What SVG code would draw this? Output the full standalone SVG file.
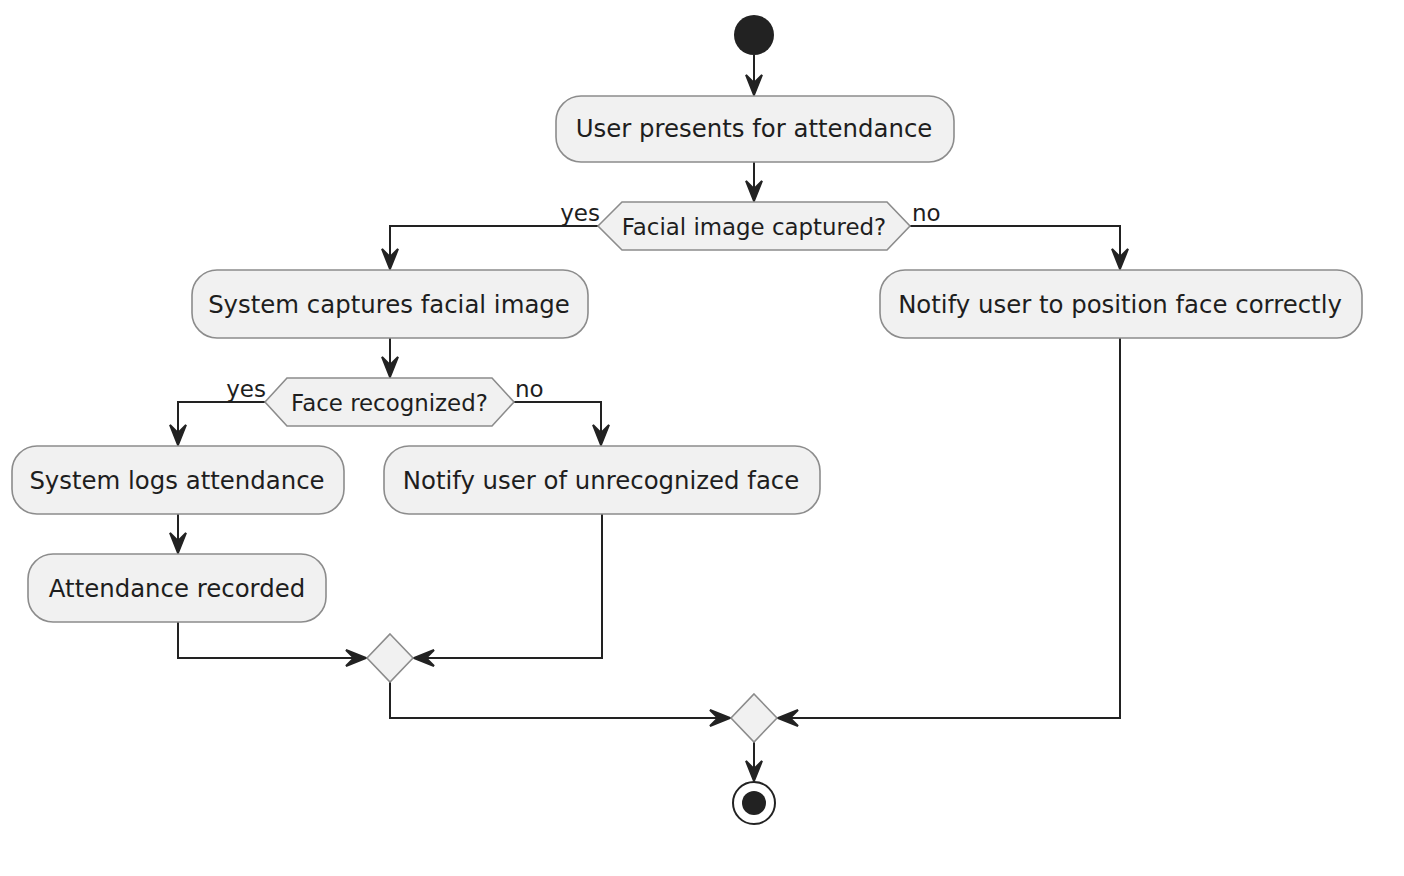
<svg xmlns="http://www.w3.org/2000/svg" width="1404" height="876" viewBox="0 0 1404 876">
<style>
.act{fill:#F1F1F1;stroke:#8C8C8C;stroke-width:1.6}
.dec{fill:#F1F1F1;stroke:#8C8C8C;stroke-width:1.6}
.t{font-family:"DejaVu Sans",sans-serif;font-size:24.4px;fill:#1E1E1E;text-anchor:middle}
.dt{font-family:"DejaVu Sans",sans-serif;font-size:22.9px;fill:#1E1E1E;text-anchor:middle}
.lbl{font-family:"DejaVu Sans",sans-serif;font-size:23px;fill:#1E1E1E}
.c{fill:none;stroke:#222;stroke-width:2;marker-end:url(#arr)}
</style>
<defs>
<marker id="arr" markerUnits="userSpaceOnUse" markerWidth="30" markerHeight="30" viewBox="-25 -15 30 30" refX="0" refY="0" orient="auto">
<path d="M0,0 L-20,-8 L-12,0 L-20,8 Z" fill="#222" stroke="#222" stroke-width="2" stroke-linejoin="miter"/>
</marker>
</defs>
<rect width="1404" height="876" fill="#FFFFFF"/>
<g id="connectors">
<path class="c" d="M754,55 V95"/>
<path class="c" d="M754,162 V201"/>
<path class="c" d="M598,226 H390 V269"/>
<path class="c" d="M910,226 H1120 V269"/>
<path class="c" d="M390,338 V377"/>
<path class="c" d="M265,402 H178 V445"/>
<path class="c" d="M514,402 H601 V445"/>
<path class="c" d="M178,514 V553"/>
<path class="c" d="M178,622 V658 H366"/>
<path class="c" d="M602,514 V658 H414"/>
<path class="c" d="M390,682 V718 H730"/>
<path class="c" d="M1120,338 V718 H778"/>
<path class="c" d="M754,742 V781"/>
</g>
<g id="start"><circle cx="754" cy="35" r="20" fill="#222"/></g>
<g id="a1"><rect class="act" x="556" y="96" width="398" height="66" rx="25"/><text class="t" x="754" y="137">User presents for attendance</text></g>
<g id="d1"><polygon class="dec" points="598,226 622,202 887,202 910,226 887,250 622,250"/><text class="dt" x="754" y="235">Facial image captured?</text>
<text class="lbl" x="600" y="221" text-anchor="end">yes</text><text class="lbl" x="912" y="221">no</text></g>
<g id="a2"><rect class="act" x="192" y="270" width="396" height="68" rx="25"/><text class="t" x="389" y="313">System captures facial image</text></g>
<g id="a3"><rect class="act" x="880" y="270" width="482" height="68" rx="25"/><text class="t" x="1120" y="313">Notify user to position face correctly</text></g>
<g id="d2"><polygon class="dec" points="265,402 287,378 492,378 514,402 492,426 287,426"/><text class="dt" x="389.5" y="411">Face recognized?</text>
<text class="lbl" x="266" y="397" text-anchor="end">yes</text><text class="lbl" x="515" y="397">no</text></g>
<g id="a4"><rect class="act" x="12" y="446" width="332" height="68" rx="25"/><text class="t" x="177" y="489">System logs attendance</text></g>
<g id="a5"><rect class="act" x="384" y="446" width="436" height="68" rx="25"/><text class="t" x="601" y="489">Notify user of unrecognized face</text></g>
<g id="a6"><rect class="act" x="28" y="554" width="298" height="68" rx="25"/><text class="t" x="177" y="597">Attendance recorded</text></g>
<g id="m1"><polygon class="dec" points="390,634 413,658 390,682 367,658"/></g>
<g id="m2"><polygon class="dec" points="754,694 777,718 754,742 731,718"/></g>
<g id="end"><circle cx="754" cy="803" r="21" fill="#FFFFFF" stroke="#222" stroke-width="2"/><circle cx="754" cy="803" r="12" fill="#222"/></g>
</svg>
